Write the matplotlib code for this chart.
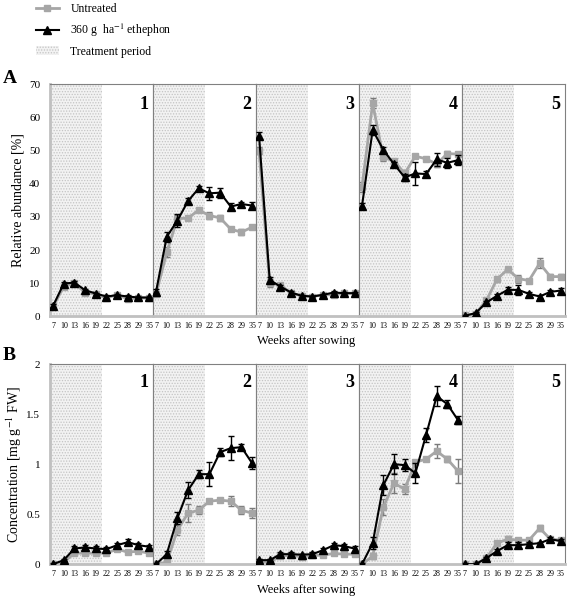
import numpy as np
import matplotlib
matplotlib.use('Agg')
import matplotlib.pyplot as plt
from matplotlib.lines import Line2D
from matplotlib.patches import Patch

plt.rcParams['font.family'] = ['Liberation Serif', 'DejaVu Serif']
plt.rcParams['mathtext.fontset'] = 'stix'
plt.rcParams['hatch.linewidth'] = 0.6

weeks = ['7', '10', '13', '16', '19', '22', '25', '28', '29', '35']

# relative abundance [%], panels 1-5
abund_untr = [
    [3.0, 9.0, 10.0, 7.2, 6.8, 5.5, 6.6, 5.2, 5.6, 5.5],
    [6.8, 19.3, 29.5, 29.6, 32.1, 30.4, 29.7, 26.3, 25.4, 26.9],
    [50.0, 10.0, 9.5, 7.0, 6.2, 6.0, 6.5, 6.5, 7.0, 7.0],
    [39.1, 64.2, 47.9, 46.9, 43.1, 48.3, 47.5, 45.9, 49.1, 48.9],
    [0.3, 0.8, 4.8, 11.2, 14.2, 11.4, 10.8, 16.0, 12.0, 12.0],
]
abund_untr_err = [
    [0.4, 0.5, 0.5, 0.4, 0.4, 0.4, 0.5, 0.4, 0.3, 0.3],
    [0.5, 1.5, 1.0, 0.6, 0.6, 1.0, 0.8, 0.6, 0.9, 0.5],
    [1.0, 1.2, 0.6, 0.4, 0.3, 0.3, 0.4, 0.5, 0.4, 0.4],
    [1.5, 1.5, 1.0, 0.6, 1.0, 0.5, 0.6, 0.8, 0.8, 0.8],
    [0.2, 0.3, 0.5, 0.8, 0.8, 1.2, 0.6, 1.5, 0.7, 0.8],
]
abund_eth = [
    [3.2, 9.9, 10.2, 7.9, 6.9, 6.0, 6.4, 6.0, 5.7, 5.7],
    [7.5, 24.0, 28.9, 34.8, 38.6, 37.1, 37.3, 33.1, 33.9, 33.4],
    [54.5, 11.0, 9.0, 7.2, 6.2, 6.0, 6.5, 7.2, 7.0, 7.0],
    [33.3, 56.2, 50.2, 45.9, 41.9, 43.1, 42.9, 47.3, 46.3, 47.1],
    [0.2, 1.0, 4.2, 6.2, 8.0, 8.0, 6.8, 6.0, 7.4, 7.8],
]
abund_eth_err = [
    [0.4, 0.5, 0.6, 0.4, 0.3, 0.4, 0.4, 0.4, 0.3, 0.3],
    [0.8, 1.5, 2.0, 0.8, 0.6, 2.0, 1.5, 1.0, 0.6, 1.0],
    [1.0, 1.0, 0.6, 0.4, 0.3, 0.3, 0.4, 0.6, 0.4, 0.5],
    [0.8, 1.5, 0.8, 0.6, 1.0, 3.5, 1.0, 2.0, 1.5, 1.5],
    [0.2, 0.3, 0.4, 0.5, 1.0, 1.5, 0.5, 0.4, 0.5, 0.7],
]

# concentration [mg g-1 FW], panels 1-5
conc_untr = [
    [0.0, 0.02, 0.11, 0.11, 0.11, 0.11, 0.15, 0.12, 0.13, 0.11],
    [0.0, 0.02, 0.34, 0.51, 0.54, 0.63, 0.64, 0.63, 0.54, 0.51],
    [0.02, 0.02, 0.08, 0.09, 0.073, 0.087, 0.09, 0.107, 0.10, 0.10],
    [0.0, 0.08, 0.57, 0.81, 0.75, 1.02, 1.05, 1.13, 1.05, 0.93],
    [0.0, 0.0, 0.06, 0.21, 0.25, 0.24, 0.24, 0.36, 0.25, 0.24],
]
conc_untr_err = [
    [0.01, 0.01, 0.01, 0.01, 0.01, 0.01, 0.01, 0.01, 0.01, 0.01],
    [0.01, 0.02, 0.05, 0.09, 0.04, 0.01, 0.01, 0.05, 0.04, 0.05],
    [0.01, 0.01, 0.01, 0.01, 0.01, 0.01, 0.01, 0.01, 0.01, 0.01],
    [0.01, 0.03, 0.08, 0.1, 0.05, 0.02, 0.02, 0.07, 0.03, 0.12],
    [0.01, 0.01, 0.01, 0.02, 0.03, 0.02, 0.02, 0.03, 0.02, 0.02],
]
conc_eth = [
    [0.0, 0.04, 0.157, 0.167, 0.157, 0.15, 0.19, 0.22, 0.19, 0.174],
    [0.0, 0.10, 0.46, 0.74, 0.90, 0.90, 1.12, 1.16, 1.17, 1.01],
    [0.04, 0.04, 0.10, 0.10, 0.095, 0.10, 0.14, 0.19, 0.18, 0.155],
    [0.0, 0.21, 0.79, 1.00, 0.99, 0.91, 1.29, 1.68, 1.60, 1.44],
    [0.0, 0.0, 0.06, 0.13, 0.19, 0.19, 0.20, 0.21, 0.25, 0.23],
]
conc_eth_err = [
    [0.01, 0.01, 0.02, 0.02, 0.02, 0.02, 0.02, 0.03, 0.02, 0.02],
    [0.01, 0.03, 0.06, 0.08, 0.04, 0.12, 0.04, 0.12, 0.03, 0.06],
    [0.01, 0.01, 0.02, 0.02, 0.01, 0.02, 0.02, 0.02, 0.02, 0.03],
    [0.01, 0.06, 0.1, 0.1, 0.06, 0.1, 0.07, 0.1, 0.04, 0.04],
    [0.01, 0.01, 0.01, 0.02, 0.03, 0.03, 0.02, 0.01, 0.02, 0.02],
]

panel_names = ['1', '2', '3', '4', '5']
treat_end = 4.55

x = np.arange(len(weeks))
fig = plt.figure(figsize=(5.67, 5.97), dpi=100)

gray = '#a6a6a6'
left, right = 0.088, 0.996
w = (right - left) / 5


def draw_row(bottom, height, untr, untr_err, eth, eth_err, ymax, yticks, yticklabels, ylabel):
    axes = []
    for i in range(5):
        ax = fig.add_axes([left + i * w, bottom, w, height])
        ax.set_xlim(-0.3, 9.35)
        ax.set_ylim(0, ymax)
        ax.axvspan(-0.3, treat_end, facecolor='#f2f2f2', edgecolor='#c4c4c4',
                   hatch='......', linewidth=0, zorder=0)
        ax.errorbar(x, untr[i], yerr=untr_err[i], color=gray, marker='s', ms=4,
                    lw=2, capsize=2, elinewidth=1, ecolor='#7a7a7a', zorder=2)
        ax.errorbar(x, eth[i], yerr=eth_err[i], color='black', marker='^', ms=5.5,
                    lw=1.5, capsize=2, elinewidth=1, zorder=3)
        ax.set_xticks(x)
        ax.set_xticklabels(weeks, fontsize=5.8)
        ax.tick_params(axis='x', length=0, pad=4)
        ax.set_yticks(yticks)
        if i == 0:
            ax.set_yticklabels(yticklabels, fontsize=8)
            ax.set_ylabel(ylabel, fontsize=10)
            ax.yaxis.set_label_coords(-0.25, 0.5)
            ax.spines['left'].set_color('#c0c0c0')
            ax.spines['left'].set_linewidth(2)
        else:
            ax.set_yticklabels([])
        ax.tick_params(axis='y', length=0, pad=7)
        for s in ['top', 'right', 'bottom']:
            ax.spines[s].set_color('#808080')
        if i > 0:
            ax.spines['left'].set_color('#808080')
        ax.spines['bottom'].set_color('#c0c0c0')
        ax.spines['bottom'].set_linewidth(2)
        ax.text(0.96, 0.95, panel_names[i], transform=ax.transAxes, ha='right', va='top',
                fontsize=13, fontweight='bold')
        axes.append(ax)
    return axes


rowA = draw_row(0.470, 0.389, abund_untr, abund_untr_err, abund_eth, abund_eth_err, 70,
                np.arange(0, 71, 10), [str(v) for v in range(0, 71, 10)],
                'Relative abundance [%]')
rowB = draw_row(0.055, 0.335, conc_untr, conc_untr_err, conc_eth, conc_eth_err, 2,
                [0, 0.5, 1, 1.5, 2], ['0', '0.5', '1', '1.5', '2'],
                r'Concentration [mg g$^{-1}$ FW]')

fig.text(0.54, 0.428, 'Weeks after sowing', ha='center', va='center', fontsize=9)
fig.text(0.54, 0.012, 'Weeks after sowing', ha='center', va='center', fontsize=9)
fig.text(0.005, 0.868, 'A', fontsize=14, fontweight='bold', va='center')
fig.text(0.005, 0.405, 'B', fontsize=14, fontweight='bold', va='center')

handles = [
    Line2D([], [], color=gray, marker='s', ms=4, lw=2),
    Line2D([], [], color='black', marker='^', ms=6, lw=1.5),
    Patch(facecolor='#f2f2f2', edgecolor='#c4c4c4', hatch='......', linewidth=0),
]
labels = ['Untreated', r'360 g  ha$^{-1}$ ethephon', 'Treatment period']
fig.legend(handles, labels, loc='upper left', bbox_to_anchor=(0.045, 1.012), frameon=False,
           fontsize=8.5, handlelength=1.9, labelspacing=0.55, handletextpad=1.0)

fig.savefig('out.png', dpi=100)
